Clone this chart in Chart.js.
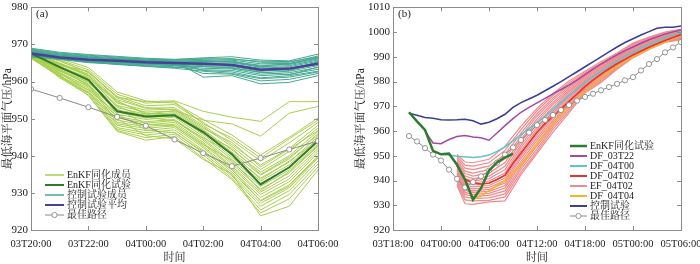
<!DOCTYPE html>
<html>
<head>
<meta charset="utf-8">
<script src="https://cdn.jsdelivr.net/npm/chart.js@4.4.0/dist/chart.umd.min.js"></script>
<style>
  html, body { margin: 0; padding: 0; background: #fff; width: 700px; height: 264px; overflow: hidden; }
  canvas { position: absolute; top: 0; }
</style>
</head>
<body>
<canvas id="chartA" width="350" height="264" style="left:0"></canvas>
<canvas id="chartB" width="370" height="264" style="left:350px"></canvas>
<script>
// ---------- panel (a) data: hours after 03T20 ----------
const hoursA = [0, 1, 2, 3, 4, 5, 6, 7, 8, 9, 10];
const xTickLabelsA = ["03T20:00", "03T22:00", "04T00:00", "04T02:00", "04T04:00", "04T06:00"];
const yTicksA = [920, 930, 940, 950, 960, 970, 980];

const bestA = [958.0, 955.6, 953.1, 950.5, 948.1, 944.4, 940.7, 937.2, 939.4, 941.7, 944.0];
const enkfA = [967.6, 963.9, 960.5, 952.0, 950.6, 950.9, 946.4, 940.4, 932.3, 936.9, 944.0];
const ctrlMeanA = [967.6, 966.5, 965.9, 965.6, 965.2, 965.0, 964.8, 964.5, 963.2, 963.5, 964.8];

const enkfMembersA = [
  [968.8, 966.2, 963.8, 957.2, 954.8, 954.2, 949.8, 945.6, 940.2, 945.0, 950.2],
  [968.2, 965.5, 962.6, 956.0, 953.5, 953.8, 949.0, 944.2, 938.6, 943.5, 949.0],
  [967.9, 965.0, 962.0, 955.1, 952.8, 953.0, 948.2, 943.0, 937.5, 942.0, 948.2],
  [967.5, 964.6, 961.5, 954.2, 952.3, 952.6, 947.8, 942.5, 936.3, 941.2, 947.5],
  [967.2, 964.2, 961.0, 953.6, 951.8, 952.0, 947.0, 941.6, 935.6, 940.0, 946.6],
  [968.5, 964.8, 961.8, 953.0, 951.2, 951.6, 946.8, 941.0, 934.8, 939.2, 946.0],
  [967.0, 963.6, 960.2, 952.4, 950.9, 951.3, 946.2, 940.2, 934.0, 938.3, 945.2],
  [966.8, 963.3, 959.8, 951.8, 950.2, 950.8, 945.8, 939.6, 933.2, 937.6, 944.6],
  [967.6, 963.8, 960.6, 951.2, 949.8, 950.4, 945.2, 939.0, 932.6, 936.8, 943.8],
  [966.6, 962.9, 959.4, 950.6, 949.2, 949.8, 944.6, 938.3, 931.8, 936.2, 943.2],
  [967.4, 963.2, 959.0, 950.2, 948.8, 949.5, 944.2, 937.8, 931.0, 935.4, 942.6],
  [966.9, 962.5, 958.6, 949.6, 948.3, 949.0, 943.6, 937.2, 930.2, 934.6, 942.0],
  [968.0, 963.0, 959.2, 949.0, 947.9, 948.5, 943.2, 936.8, 929.6, 933.8, 941.4],
  [966.4, 962.0, 958.2, 948.6, 947.4, 948.1, 942.6, 936.2, 928.8, 933.0, 940.8],
  [967.3, 962.3, 957.6, 948.2, 946.8, 947.6, 942.2, 935.6, 928.0, 932.2, 940.0],
  [966.7, 961.6, 957.2, 947.6, 946.2, 947.0, 941.5, 935.0, 927.2, 931.4, 939.4],
  [966.3, 961.3, 956.8, 947.2, 945.6, 946.4, 940.8, 934.6, 926.4, 930.6, 938.6],
  [967.1, 961.0, 956.4, 946.8, 944.9, 945.8, 940.2, 934.0, 925.4, 929.6, 937.8],
  [966.2, 961.8, 956.2, 946.6, 944.2, 945.2, 939.4, 933.6, 924.6, 928.4, 937.0],
  [968.3, 965.8, 963.2, 956.6, 954.2, 954.6, 948.6, 944.8, 939.4, 944.6, 949.6],
  [967.8, 964.4, 962.8, 955.6, 953.0, 952.4, 947.4, 943.6, 937.0, 941.8, 946.8],
  [966.6, 963.6, 961.2, 954.6, 951.5, 951.0, 946.0, 942.0, 935.0, 939.6, 945.6],
  [967.7, 962.8, 960.0, 953.4, 950.4, 949.4, 944.8, 940.8, 933.6, 938.6, 944.2],
  [966.9, 962.2, 958.8, 952.6, 948.6, 948.0, 943.0, 938.8, 930.6, 935.8, 942.8],
  [967.5, 961.5, 957.8, 951.4, 947.0, 946.2, 941.2, 936.4, 927.8, 931.8, 939.8],
  [966.5, 961.2, 957.0, 950.0, 945.4, 944.6, 939.0, 935.2, 923.8, 926.4, 936.2],
  [968.0, 965.6, 962.4, 955.8, 954.6, 954.8, 952.0, 950.4, 949.3, 954.6, 954.6],
  [967.4, 964.9, 961.6, 954.8, 951.2, 952.2, 949.6, 948.6, 945.3, 951.5, 953.3]
];

const ctrlMembersA = [
  [969.0, 967.9, 967.3, 966.8, 966.3, 966.0, 966.4, 966.7, 965.8, 965.6, 967.4],
  [968.6, 967.5, 966.9, 966.4, 966.0, 965.8, 966.0, 966.2, 965.2, 965.2, 966.9],
  [968.3, 967.2, 966.6, 966.2, 965.8, 965.6, 965.7, 965.8, 964.8, 964.9, 966.5],
  [968.0, 967.0, 966.4, 966.0, 965.6, 965.4, 965.4, 965.4, 964.4, 964.6, 966.1],
  [967.8, 966.8, 966.2, 965.8, 965.5, 965.3, 965.1, 965.0, 964.0, 964.3, 965.8],
  [967.6, 966.6, 966.0, 965.7, 965.3, 965.1, 964.9, 964.7, 963.6, 964.0, 965.5],
  [967.4, 966.4, 965.8, 965.5, 965.1, 964.9, 964.6, 964.4, 963.2, 963.6, 965.1],
  [967.2, 966.2, 965.6, 965.3, 964.9, 964.7, 964.3, 964.1, 962.8, 963.2, 964.7],
  [967.0, 966.0, 965.4, 965.1, 964.7, 964.5, 964.0, 963.8, 962.4, 962.8, 964.3],
  [966.8, 966.1, 965.2, 964.9, 964.5, 964.3, 963.6, 963.4, 962.0, 962.4, 963.8],
  [966.6, 966.0, 965.1, 964.7, 964.3, 964.0, 963.2, 963.0, 961.6, 962.0, 963.3],
  [967.9, 966.9, 966.3, 965.9, 965.4, 965.2, 963.0, 962.6, 961.0, 961.6, 962.8],
  [967.5, 966.5, 965.9, 965.6, 965.0, 964.6, 962.2, 962.0, 960.2, 960.6, 962.2],
  [968.1, 967.1, 966.5, 966.1, 965.7, 965.5, 961.2, 961.6, 959.4, 959.8, 961.6],
  [967.3, 966.3, 965.7, 965.2, 964.8, 964.4, 964.8, 964.6, 963.0, 963.3, 965.3],
  [968.4, 967.4, 966.7, 966.1, 965.5, 965.2, 965.6, 965.2, 964.2, 964.8, 966.3],
  [967.1, 966.3, 965.5, 964.8, 964.2, 963.8, 964.1, 963.6, 962.6, 961.8, 963.9],
  [968.8, 967.7, 967.1, 966.6, 966.1, 965.9, 966.2, 966.0, 965.5, 965.4, 966.6],
  [966.9, 966.2, 965.3, 964.6, 964.1, 963.6, 962.8, 962.2, 960.8, 961.2, 962.6],
  [967.7, 966.7, 966.1, 965.8, 965.4, 965.3, 965.3, 965.6, 963.8, 963.0, 964.9]
];

// ---------- panel (b) data: hours after 03T18 ----------
const xTickLabelsB = ["03T18:00", "04T00:00", "04T06:00", "04T12:00", "04T18:00", "05T00:00", "05T06:00"];
const yTicksB = [920, 930, 940, 950, 960, 970, 980, 990, 1000, 1010];

const bestStartB = 2;
const bestB = [958.0, 955.8, 953.1, 950.5, 948.1, 944.4, 940.7, 937.2, 939.4, 941.7, 944.0, 947.2,
  950.5, 953.4, 956.4, 959.4, 962.4, 964.5, 966.5, 968.5, 970.5, 972.3, 973.8, 975.1, 976.5,
  977.8, 979.1, 980.5, 981.8, 984.5, 987.1, 989.1, 991.8, 993.8, 996.0];

const enkfStartB = 2;
const enkfB = [967.6, 963.9, 960.5, 952.0, 950.6, 950.9, 946.4, 940.4, 932.3, 936.9, 944.0, 947.3, 949.3, 950.9];

const ctrlStartB = 2;
const ctrlB = [967.2, 966.4, 965.5, 965.2, 964.6, 964.5, 964.6, 964.8, 964.2, 962.8, 963.6, 965.0,
  966.8, 969.6, 971.5, 973.0, 974.5, 976.3, 978.1, 980.0, 982.0, 984.0, 986.0, 988.0, 990.0,
  992.0, 994.0, 995.8, 997.3, 998.8, 1000.2, 1001.6, 1002.0, 1002.0, 1002.5];

const df03T22Start = 4;
const df03T22 = [960.1, 955.2, 954.9, 956.6, 957.8, 958.2, 957.6, 957.3, 956.3, 959.2, 962.2, 965.0,
  967.6, 969.6, 971.4, 973.2, 975.0, 976.8, 978.6, 980.6, 982.8, 985.0, 987.1, 989.0, 990.8,
  992.5, 994.0, 995.5, 996.9, 998.1, 999.2, 1000.1, 1000.9];

const df04T00Start = 6;
const df04T00 = [950.5, 950.3, 949.8, 949.6, 949.3, 949.6, 950.3, 951.8, 953.6, 956.0, 958.6, 961.0,
  963.3, 966.0, 968.8, 971.6, 974.3, 977.0, 979.6, 982.0, 984.2, 986.3, 988.3, 990.2, 992.0,
  993.6, 995.0, 996.4, 997.7, 998.9, 999.9];

const df04T02Start = 8;
const df04T02 = [946.0, 940.5, 939.0, 938.6, 939.0, 940.4, 942.2, 947.0, 951.0, 955.3, 959.5, 963.0,
  966.0, 969.0, 972.0, 975.0, 978.0, 980.6, 983.0, 985.2, 987.2, 989.0, 990.8, 992.4, 993.9,
  995.3, 996.6, 997.8, 999.0];

const df04T04Start = 10;
const df04T04 = [932.3, 933.8, 935.9, 938.0, 940.0, 943.0, 946.0, 950.5, 955.0, 959.0, 963.0, 966.5,
  970.0, 973.0, 976.0, 978.8, 981.4, 983.8, 986.0, 988.0, 989.9, 991.6, 993.2, 994.7, 996.1,
  997.4, 998.6];

const efHours = [8, 9, 10, 12, 14, 16, 18, 20, 22, 24, 26, 28, 30, 32, 34, 36];
const efMembers = [
  [950.5, 947.5, 947.2, 948.6, 953.8, 962.0, 969.2, 975.2, 980.2, 984.2, 988.0, 991.6, 995.6, 998.0, 1000.0, 1001.2],
  [949.8, 946.2, 945.8, 947.2, 952.2, 960.6, 968.2, 974.4, 979.4, 983.6, 987.4, 991.2, 995.2, 997.7, 999.7, 1000.9],
  [949.0, 945.0, 944.4, 945.8, 950.6, 959.2, 967.0, 973.4, 978.6, 983.2, 987.0, 990.8, 994.8, 997.4, 999.5, 1000.7],
  [948.2, 943.8, 943.0, 944.4, 948.9, 958.0, 966.0, 972.6, 977.9, 982.7, 986.5, 990.4, 994.4, 997.1, 999.2, 1000.4],
  [947.5, 942.8, 941.8, 943.0, 947.3, 956.6, 964.8, 971.6, 977.2, 982.2, 986.0, 990.0, 994.0, 996.8, 998.9, 1000.1],
  [946.8, 941.8, 940.8, 941.8, 945.8, 955.6, 963.8, 970.8, 976.4, 981.7, 985.6, 989.6, 993.6, 996.5, 998.7, 999.9],
  [946.0, 940.8, 939.8, 940.8, 944.4, 954.4, 962.8, 969.8, 975.8, 981.2, 985.1, 989.2, 993.2, 996.2, 998.4, 999.6],
  [945.4, 940.0, 939.0, 939.8, 943.0, 953.4, 961.6, 969.0, 975.0, 980.7, 984.6, 988.8, 992.8, 995.9, 998.2, 999.4],
  [944.6, 939.2, 938.2, 938.8, 942.0, 952.2, 960.6, 968.0, 974.2, 980.2, 984.1, 988.4, 992.5, 995.6, 997.9, 999.1],
  [944.0, 938.4, 937.4, 938.0, 941.0, 951.2, 959.4, 967.2, 973.5, 979.6, 983.6, 988.0, 992.1, 995.3, 997.7, 998.9],
  [943.2, 937.6, 936.6, 937.2, 940.0, 950.0, 958.4, 966.2, 972.8, 979.1, 983.1, 987.6, 991.7, 995.0, 997.4, 998.7],
  [942.6, 936.8, 935.8, 936.4, 939.0, 949.0, 957.2, 965.4, 972.0, 978.6, 982.6, 987.2, 991.4, 994.7, 997.2, 998.5],
  [941.8, 936.0, 935.2, 935.6, 938.0, 947.8, 956.2, 964.4, 971.4, 978.0, 982.1, 986.8, 991.0, 994.4, 996.9, 998.2],
  [941.0, 935.2, 934.4, 934.8, 937.0, 946.8, 955.0, 963.6, 970.6, 977.5, 981.6, 986.4, 990.7, 994.1, 996.7, 998.0],
  [940.2, 934.4, 933.6, 934.0, 935.8, 945.6, 954.0, 962.6, 969.8, 977.0, 981.1, 986.0, 990.4, 993.8, 996.4, 997.7],
  [939.4, 933.4, 932.8, 933.0, 934.6, 944.6, 952.8, 961.8, 969.0, 976.5, 980.6, 985.7, 990.1, 993.5, 996.2, 997.5],
  [938.6, 932.2, 931.8, 932.0, 933.4, 943.4, 951.8, 960.8, 968.2, 976.0, 980.1, 985.3, 989.8, 993.2, 996.0, 997.2],
  [938.0, 930.6, 930.4, 931.4, 931.8, 942.4, 951.0, 959.6, 967.4, 975.4, 979.6, 985.0, 989.6, 993.0, 995.8, 997.0]
];

// ---------- helpers ----------
const SERIF = '"Liberation Serif", "Noto Serif CJK SC", "Noto Sans CJK SC", serif';
const pts = (xs, ys) => ys.map((v, i) => ({ x: xs[i], y: v }));
const run = (start, ys) => ys.map((v, i) => ({ x: start + i, y: v }));

const line = (data, color, width, order, extra) => Object.assign({
  data, borderColor: color, backgroundColor: color, borderWidth: width,
  pointRadius: 0, fill: false, tension: 0, order
}, extra || {});

const bestStyle = {
  pointRadius: 2.6, pointBorderWidth: 0.9, pointBorderColor: '#8a8a8a',
  pointBackgroundColor: '#ffffff'
};

// draws frame, inward ticks, titles, panel tag and the legend
function decorPlugin(opts) {
  return {
    id: 'decor',
    afterDraw(chart) {
      const ctx = chart.ctx, a = chart.chartArea;
      const xs = chart.scales.x, ys = chart.scales.y;
      ctx.save();
      ctx.strokeStyle = '#8c8c8c';
      ctx.lineWidth = 1;
      ctx.strokeRect(Math.round(a.left) + 0.5, Math.round(a.top) + 0.5,
        Math.round(a.right - a.left), Math.round(a.bottom - a.top));
      ctx.beginPath();
      xs.ticks.forEach(t => {
        const px = Math.round(xs.getPixelForValue(t.value)) + 0.5;
        ctx.moveTo(px, a.bottom); ctx.lineTo(px, a.bottom - 4);
        ctx.moveTo(px, a.top); ctx.lineTo(px, a.top + 4);
      });
      ys.ticks.forEach(t => {
        const py = Math.round(ys.getPixelForValue(t.value)) + 0.5;
        ctx.moveTo(a.left, py); ctx.lineTo(a.left + 4, py);
        ctx.moveTo(a.right, py); ctx.lineTo(a.right - 4, py);
      });
      ctx.stroke();

      ctx.fillStyle = '#222';
      ctx.font = '11px ' + SERIF;
      ctx.textBaseline = 'middle';
      ctx.textAlign = 'left';
      ctx.fillText(opts.tag, a.left + 5, 14);

      ctx.textAlign = 'center';
      ctx.font = '11px ' + SERIF;
      ctx.fillText('时间', (a.left + a.right) / 2, 258);

      ctx.save();
      ctx.translate(opts.yTitleX, (a.top + a.bottom) / 2);
      ctx.rotate(-Math.PI / 2);
      ctx.font = '11.5px ' + SERIF;
      ctx.fillText('最低海平面气压/hPa', 0, 0);
      ctx.restore();

      // legend
      ctx.font = '10px ' + SERIF;
      ctx.textAlign = 'left';
      opts.legend.forEach((e, i) => {
        const y = opts.legendY + i * opts.legendStep;
        ctx.strokeStyle = e.color;
        ctx.lineWidth = e.width;
        ctx.beginPath();
        ctx.moveTo(opts.legendX, y);
        ctx.lineTo(opts.legendX + opts.legendLen, y);
        ctx.stroke();
        if (e.marker) {
          ctx.lineWidth = 0.9;
          ctx.fillStyle = '#fff';
          ctx.beginPath();
          ctx.arc(opts.legendX + opts.legendLen / 2, y, 2.6, 0, Math.PI * 2);
          ctx.fill();
          ctx.stroke();
        }
        ctx.fillStyle = '#222';
        ctx.fillText(e.text, opts.legendX + opts.legendLen + 3, y);
      });
      ctx.restore();
    }
  };
}

function axes(xMax, xStep, xLabels, yMin, yMax, yWidth) {
  return {
    x: {
      type: 'linear', min: 0, max: xMax,
      grid: { display: false, drawTicks: false },
      border: { display: false },
      ticks: {
        stepSize: xStep, autoSkip: false, maxRotation: 0, minRotation: 0,
        padding: 8, color: '#222', font: { family: SERIF, size: 10.5 },
        callback: v => xLabels[Math.round(v / xStep)]
      },
      afterFit: s => { s.height = 34; }
    },
    y: {
      min: yMin, max: yMax,
      grid: { display: false, drawTicks: false },
      border: { display: false },
      ticks: {
        stepSize: 10, padding: 3, color: '#222',
        font: { family: SERIF, size: 11, lineHeight: 0.8 },
        callback: v => String(v)
      },
      afterFit: s => { s.width = yWidth; }
    }
  };
}

const baseOpts = {
  responsive: false, animation: false, devicePixelRatio: 1,
  plugins: { legend: { display: false }, tooltip: { enabled: false } }
};

// ---------- panel (a) ----------
const dsA = [];
enkfMembersA.forEach(m => dsA.push(line(pts(hoursA, m), '#a9cf4f', 1, 5)));
ctrlMembersA.forEach(m => dsA.push(line(pts(hoursA, m), '#45a891', 1, 4)));
dsA.push(line(pts(hoursA, enkfA), '#2f7a2e', 2, 3));
dsA.push(line(pts(hoursA, ctrlMeanA), '#4a3f99', 2.5, 2));
dsA.push(line(pts(hoursA, bestA), '#8a8a8a', 1, 1, bestStyle));

new Chart(document.getElementById('chartA'), {
  type: 'line',
  data: { datasets: dsA },
  options: Object.assign({}, baseOpts, {
    layout: { padding: { left: 0, top: 4, right: 32, bottom: 0 } },
    scales: axes(10, 2, xTickLabelsA, yTicksA[0], yTicksA[yTicksA.length - 1], 31)
  }),
  plugins: [decorPlugin({
    tag: '(a)', yTitleX: 8,
    legendX: 45, legendY: 175, legendStep: 10, legendLen: 19,
    legend: [
      { text: 'EnKF同化成员', color: '#a9cf4f', width: 1.5 },
      { text: 'EnKF同化试验', color: '#2f7a2e', width: 2 },
      { text: '控制试验成员', color: '#45a891', width: 1.5 },
      { text: '控制试验平均', color: '#4a3f99', width: 2 },
      { text: '最佳路径', color: '#8a8a8a', width: 1, marker: true }
    ]
  })]
});

// ---------- panel (b) ----------
const dsB = [];
efMembers.forEach(m => dsB.push(line(pts(efHours, m), '#ef8a8e', 1.2, 9)));
dsB.push(line(run(ctrlStartB, ctrlB), '#3c3f91', 1.6, 8));
dsB.push(line(run(df03T22Start, df03T22), '#a44aa6', 1.5, 7));
dsB.push(line(run(df04T00Start, df04T00), '#5cc6cc', 1.5, 6));
dsB.push(line(run(df04T04Start, df04T04), '#f5b42a', 1.6, 5));
dsB.push(line(run(df04T02Start, df04T02), '#e8332b', 1.6, 4));
dsB.push(line(run(bestStartB, bestB), '#8a8a8a', 1, 2, bestStyle));
dsB.push(line(run(enkfStartB, enkfB), '#2e7d2e', 2.5, 1));

new Chart(document.getElementById('chartB'), {
  type: 'line',
  data: { datasets: dsB },
  options: Object.assign({}, baseOpts, {
    layout: { padding: { left: 0, top: 4, right: 39, bottom: 0 } },
    scales: axes(36, 6, xTickLabelsB, yTicksB[0], yTicksB[yTicksB.length - 1], 43)
  }),
  plugins: [decorPlugin({
    tag: '(b)', yTitleX: 11,
    legendX: 220, legendY: 146, legendStep: 10, legendLen: 17,
    legend: [
      { text: 'EnKF同化试验', color: '#2e7d2e', width: 2.5 },
      { text: 'DF_03T22', color: '#a44aa6', width: 2 },
      { text: 'DF_04T00', color: '#5cc6cc', width: 2 },
      { text: 'DF_04T02', color: '#e8332b', width: 2 },
      { text: 'EF_04T02', color: '#ef8a8e', width: 2 },
      { text: 'DF_04T04', color: '#f5b42a', width: 2 },
      { text: '控制试验', color: '#3c3f91', width: 2 },
      { text: '最佳路径', color: '#8a8a8a', width: 1, marker: true }
    ]
  })]
});
</script>
</body>
</html>
